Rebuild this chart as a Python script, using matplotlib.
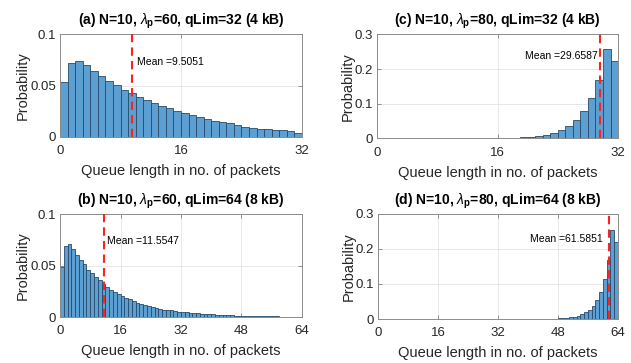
import numpy as np
import matplotlib
matplotlib.use("Agg")
import matplotlib.pyplot as plt

plt.rcParams['font.family'] = ['Liberation Sans', 'DejaVu Sans']
plt.rcParams['mathtext.fontset'] = 'custom'
plt.rcParams['mathtext.rm'] = 'Liberation Sans'
plt.rcParams['mathtext.it'] = 'Liberation Sans:italic'
plt.rcParams['mathtext.bf'] = 'Liberation Sans:bold'

# queue length distributions (bin width = 1 packet)
prob_a = [0.0534, 0.0720, 0.0736, 0.0700, 0.0641, 0.0590, 0.0542, 0.0502,
          0.0461, 0.0424, 0.0388, 0.0357, 0.0328, 0.0301, 0.0278, 0.0252,
          0.0230, 0.0213, 0.0191, 0.0173, 0.0158, 0.0143, 0.0133, 0.0112,
          0.0101, 0.0091, 0.0082, 0.0075, 0.0069, 0.0065, 0.0058, 0.0037]

prob_b = [0.0487, 0.0694, 0.0706, 0.0658, 0.0606, 0.0558, 0.0510, 0.0460,
          0.0426, 0.0384, 0.0358, 0.0320, 0.0294, 0.0265, 0.0242, 0.0223,
          0.0203, 0.0187, 0.0172, 0.0152, 0.0139, 0.0129, 0.0113, 0.0104,
          0.0097, 0.0087, 0.0081, 0.0071, 0.0065, 0.0065, 0.0058, 0.0052,
          0.0045, 0.0045, 0.0039, 0.0039, 0.0036, 0.0032, 0.0029, 0.0029,
          0.0026, 0.0023, 0.0022, 0.0019, 0.0016, 0.0016, 0.0013, 0.0011,
          0.0010, 0.0010, 0.0009, 0.0008, 0.0008, 0.0007, 0.0006, 0.0006,
          0.0005, 0.0005, 0.0004, 0.0004, 0.0004, 0.0003, 0.0003, 0.0003]

prob_c = [0.0, 0.0008, 0.0008, 0.0008, 0.0, 0.0, 0.0, 0.0,
          0.0, 0.0, 0.0, 0.0, 0.0, 0.0, 0.0, 0.0,
          0.0005, 0.0010, 0.0020, 0.0030, 0.0045, 0.0065, 0.0098, 0.0152,
          0.0235, 0.0358, 0.0540, 0.0780, 0.1160, 0.1690, 0.2590, 0.2240]

prob_d = [0.0, 0.0, 0.0, 0.0, 0.0, 0.0, 0.0, 0.0,
          0.0, 0.0, 0.0, 0.0, 0.0, 0.0, 0.0, 0.0,
          0.0, 0.0, 0.0, 0.0, 0.0, 0.0, 0.0, 0.0,
          0.0, 0.0, 0.0, 0.0, 0.0, 0.0, 0.0, 0.0,
          0.0, 0.0, 0.0, 0.0, 0.0, 0.0, 0.0, 0.0,
          0.0, 0.0, 0.0, 0.0, 0.0, 0.0003, 0.0006, 0.0010,
          0.0015, 0.0022, 0.0030, 0.0045, 0.0065, 0.0095, 0.0135, 0.0190,
          0.0260, 0.0370, 0.0540, 0.0780, 0.1140, 0.1690, 0.2550, 0.2200]

means = [9.5051, 11.5547, 29.6587, 61.5851]
titles = [r'(a) N=10, $\lambda_\mathbf{p}$=60, qLim=32 (4 kB)',
          r'(b) N=10, $\lambda_\mathbf{p}$=60, qLim=64 (8 kB)',
          r'(c) N=10, $\lambda_\mathbf{p}$=80, qLim=32 (4 kB)',
          r'(d) N=10, $\lambda_\mathbf{p}$=80, qLim=64 (8 kB)']

fig = plt.figure(figsize=(6.31, 3.63), dpi=100)

# axes boxes in figure fractions
boxes = [[0.0951, 0.6226, 0.3835, 0.2837],
         [0.0951, 0.1267, 0.3835, 0.2837],
         [0.5975, 0.6185, 0.3820, 0.2865],
         [0.5990, 0.1212, 0.3800, 0.2893]]
data = [prob_a, prob_b, prob_c, prob_d]
ymax = [0.1, 0.1, 0.3, 0.3]
yticks = [[0, 0.05, 0.1], [0, 0.05, 0.1], [0, 0.1, 0.2, 0.3], [0, 0.1, 0.2, 0.3]]
ytl = [['0', '0.05', '0.1'], ['0', '0.05', '0.1'],
       ['0', '0.1', '0.2', '0.3'], ['0', '0.1', '0.2', '0.3']]
# mean label position (x, y, ha)
mean_txt = [(10.2, 0.073, 'left'), (12.3, 0.074, 'left'),
            (29.3, 0.237, 'right'), (59.9, 0.228, 'right')]

tc = '#262626'
for i in range(4):
    ax = fig.add_axes(boxes[i])
    vals = data[i]
    n = len(vals)
    ax.bar(np.arange(n), vals, width=1.0, align='edge',
           color='#5b9fd3', edgecolor='#2a4a68', linewidth=0.6, zorder=2)
    ax.plot([means[i], means[i]], [0, ymax[i]], color='#ff2020',
            linestyle=(0, (4, 2.5)), linewidth=1.5, zorder=3)
    tx, ty, ha = mean_txt[i]
    ax.text(tx, ty, 'Mean =%.4f' % means[i], ha=ha, va='center',
            fontsize=7.5, color='black', zorder=4)
    ax.set_xlim(0, n)
    ax.set_ylim(0, ymax[i])
    ax.set_xticks(np.arange(0, n + 1, 16))
    ax.set_yticks(yticks[i])
    ax.set_yticklabels(ytl[i])
    ax.grid(True, color='#e4e4e4', linewidth=0.6, zorder=0)
    ax.set_axisbelow(True)
    ax.tick_params(direction='in', length=3, width=0.6, colors='#808080',
                   labelcolor=tc, labelsize=9.5, top=True, right=True)
    ax.tick_params(axis='x', pad=6)
    ax.tick_params(axis='y', pad=3)
    for sp in ax.spines.values():
        sp.set_color('#8c8c8c')
        sp.set_linewidth(0.7)
    ax.set_xlabel('Queue length in no. of packets', fontsize=10.5, color=tc, labelpad=5)
    ax.set_ylabel('Probability', fontsize=10.5, color=tc, labelpad=0)
    ax.set_title(titles[i], fontsize=10, fontweight='bold', color='black', pad=7)

fig.savefig('out.png', dpi=100)
